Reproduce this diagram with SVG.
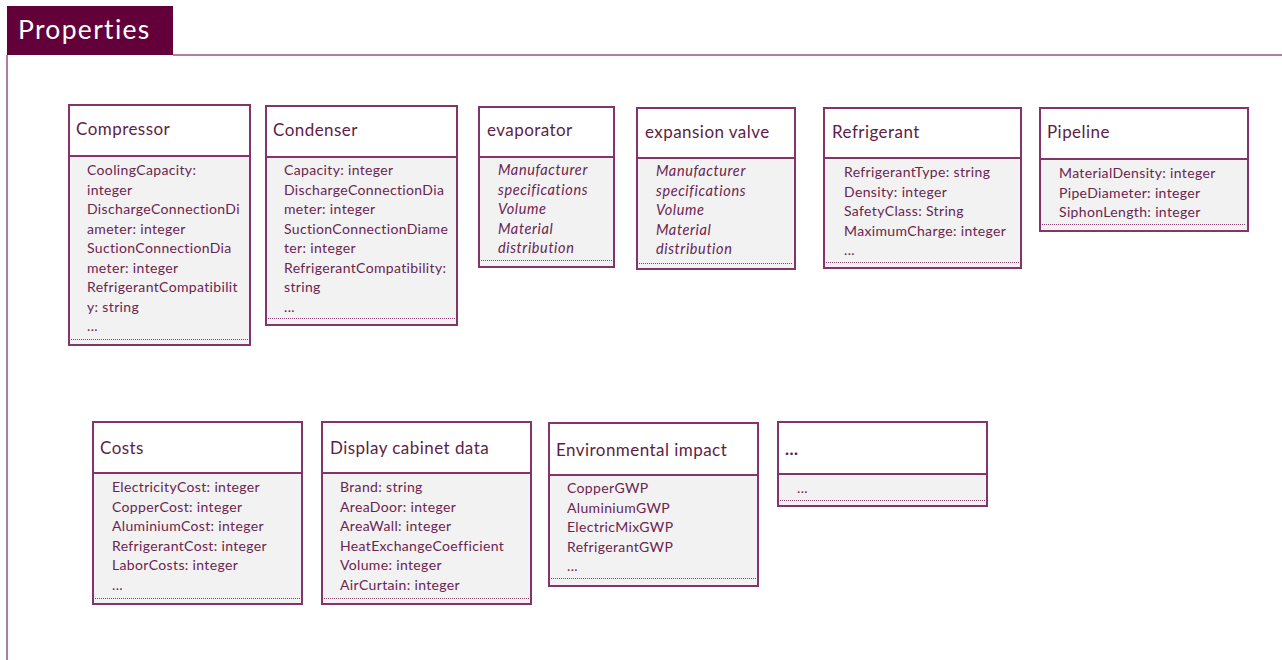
<svg xmlns="http://www.w3.org/2000/svg" width="1282" height="660" viewBox="0 0 1282 660">
<style>
.frame{fill:none;stroke:#b57ba2;stroke-width:2}
.box{fill:#f2f2f2;stroke:#84346a;stroke-width:2}
.head{fill:#ffffff;stroke:#84346a;stroke-width:2}
.dot{stroke:#8a3d6e;stroke-width:1;stroke-dasharray:1 1;fill:none}
.title{font-family:Lato,"Liberation Sans",sans-serif;font-size:17px;letter-spacing:0.45px;fill:#5e1d45}
.attr{font-family:Lato,"Liberation Sans",sans-serif;font-size:14px;letter-spacing:0.35px;fill:#6b2450}
.it{font-style:italic;font-size:14.5px;letter-spacing:0.6px}
</style>
<rect x="0" y="0" width="1282" height="660" fill="#ffffff"/>
<g id="frame">
<rect x="7" y="6" width="166" height="49" fill="#640039"/>
<path class="frame" d="M173 55 H1282 M7 55 V660"/>
<text x="18" y="39" font-family="Lato,'Liberation Sans',sans-serif" font-size="26.5" letter-spacing="1.3" fill="#ffffff">Properties</text>
</g>
<g id="compressor">
<rect class="box" x="69" y="105" width="181" height="240"/>
<rect class="head" x="69" y="105" width="181" height="51"/>
<line class="dot" x1="71" y1="339.5" x2="248" y2="339.5"/>
<text class="title" x="76" y="135">Compressor</text>
<text class="attr"><tspan x="87" y="175">CoolingCapacity:</tspan><tspan x="87" y="194.5">integer</tspan><tspan x="87" y="214">DischargeConnectionDi</tspan><tspan x="87" y="233.5">ameter: integer</tspan><tspan x="87" y="253">SuctionConnectionDia</tspan><tspan x="87" y="272.5">meter: integer</tspan><tspan x="87" y="292">RefrigerantCompatibilit</tspan><tspan x="87" y="311.5">y: string</tspan><tspan x="87" y="331">...</tspan></text>
</g>
<g id="condenser">
<rect class="box" x="266" y="106" width="191" height="219"/>
<rect class="head" x="266" y="106" width="191" height="51"/>
<line class="dot" x1="268" y1="318.5" x2="455" y2="318.5"/>
<text class="title" x="273" y="136">Condenser</text>
<text class="attr"><tspan x="284" y="175">Capacity: integer</tspan><tspan x="284" y="194.5">DischargeConnectionDia</tspan><tspan x="284" y="214">meter: integer</tspan><tspan x="284" y="233.5">SuctionConnectionDiame</tspan><tspan x="284" y="253">ter: integer</tspan><tspan x="284" y="272.5">RefrigerantCompatibility:</tspan><tspan x="284" y="292">string</tspan><tspan x="284" y="311.5">...</tspan></text>
</g>
<g id="evaporator">
<rect class="box" x="479" y="107" width="135" height="160"/>
<rect class="head" x="479" y="107" width="135" height="50"/>
<line class="dot" x1="481" y1="260.5" x2="612" y2="260.5"/>
<text class="title" x="487" y="136">evaporator</text>
<text class="attr it"><tspan x="498" y="175">Manufacturer</tspan><tspan x="498" y="194.5">specifications</tspan><tspan x="498" y="214">Volume</tspan><tspan x="498" y="233.5">Material</tspan><tspan x="498" y="253">distribution</tspan></text>
</g>
<g id="expansion-valve">
<rect class="box" x="637" y="108" width="158" height="161"/>
<rect class="head" x="637" y="108" width="158" height="50"/>
<line class="dot" x1="639" y1="263.5" x2="793" y2="263.5"/>
<text class="title" x="645" y="138">expansion valve</text>
<text class="attr it"><tspan x="656" y="176">Manufacturer</tspan><tspan x="656" y="195.5">specifications</tspan><tspan x="656" y="215">Volume</tspan><tspan x="656" y="234.5">Material</tspan><tspan x="656" y="254">distribution</tspan></text>
</g>
<g id="refrigerant">
<rect class="box" x="824" y="108" width="197" height="160"/>
<rect class="head" x="824" y="108" width="197" height="50"/>
<line class="dot" x1="826" y1="262.5" x2="1019" y2="262.5"/>
<text class="title" x="832" y="138">Refrigerant</text>
<text class="attr"><tspan x="844" y="177">RefrigerantType: string</tspan><tspan x="844" y="196.5">Density: integer</tspan><tspan x="844" y="216">SafetyClass: String</tspan><tspan x="844" y="235.5">MaximumCharge: integer</tspan><tspan x="844" y="255">...</tspan></text>
</g>
<g id="pipeline">
<rect class="box" x="1040" y="108" width="208" height="123"/>
<rect class="head" x="1040" y="108" width="208" height="51"/>
<line class="dot" x1="1042" y1="224.5" x2="1246" y2="224.5"/>
<text class="title" x="1047" y="138">Pipeline</text>
<text class="attr"><tspan x="1059" y="178">MaterialDensity: integer</tspan><tspan x="1059" y="197.5">PipeDiameter: integer</tspan><tspan x="1059" y="217">SiphonLength: integer</tspan></text>
</g>
<g id="costs">
<rect class="box" x="93" y="422" width="209" height="182"/>
<rect class="head" x="93" y="422" width="209" height="51"/>
<line class="dot" x1="95" y1="598.5" x2="300" y2="598.5"/>
<text class="title" x="100" y="454">Costs</text>
<text class="attr"><tspan x="112" y="492">ElectricityCost: integer</tspan><tspan x="112" y="511.5">CopperCost: integer</tspan><tspan x="112" y="531">AluminiumCost: integer</tspan><tspan x="112" y="550.5">RefrigerantCost: integer</tspan><tspan x="112" y="570">LaborCosts: integer</tspan><tspan x="112" y="589.5">...</tspan></text>
</g>
<g id="display-cabinet-data">
<rect class="box" x="322" y="422" width="209" height="182"/>
<rect class="head" x="322" y="422" width="209" height="51"/>
<line class="dot" x1="324" y1="598.5" x2="529" y2="598.5"/>
<text class="title" x="330" y="454">Display cabinet data</text>
<text class="attr"><tspan x="340" y="492">Brand: string</tspan><tspan x="340" y="511.5">AreaDoor: integer</tspan><tspan x="340" y="531">AreaWall: integer</tspan><tspan x="340" y="550.5">HeatExchangeCoefficient</tspan><tspan x="340" y="570">Volume: integer</tspan><tspan x="340" y="589.5">AirCurtain: integer</tspan></text>
</g>
<g id="environmental-impact">
<rect class="box" x="549" y="423" width="209" height="163"/>
<rect class="head" x="549" y="423" width="209" height="52"/>
<line class="dot" x1="551" y1="578.5" x2="756" y2="578.5"/>
<text class="title" x="556" y="456">Environmental impact</text>
<text class="attr"><tspan x="567" y="493">CopperGWP</tspan><tspan x="567" y="512.5">AluminiumGWP</tspan><tspan x="567" y="532">ElectricMixGWP</tspan><tspan x="567" y="551.5">RefrigerantGWP</tspan><tspan x="567" y="571">...</tspan></text>
</g>
<g id="more">
<rect class="box" x="778" y="422" width="209" height="84"/>
<rect class="head" x="778" y="422" width="209" height="52"/>
<line class="dot" x1="780" y1="500.5" x2="985" y2="500.5"/>
<text class="title" x="785" y="455" font-weight="bold">...</text>
<text class="attr" x="797" y="493">...</text>
</g>
<g id="connectors"></g>
</svg>
